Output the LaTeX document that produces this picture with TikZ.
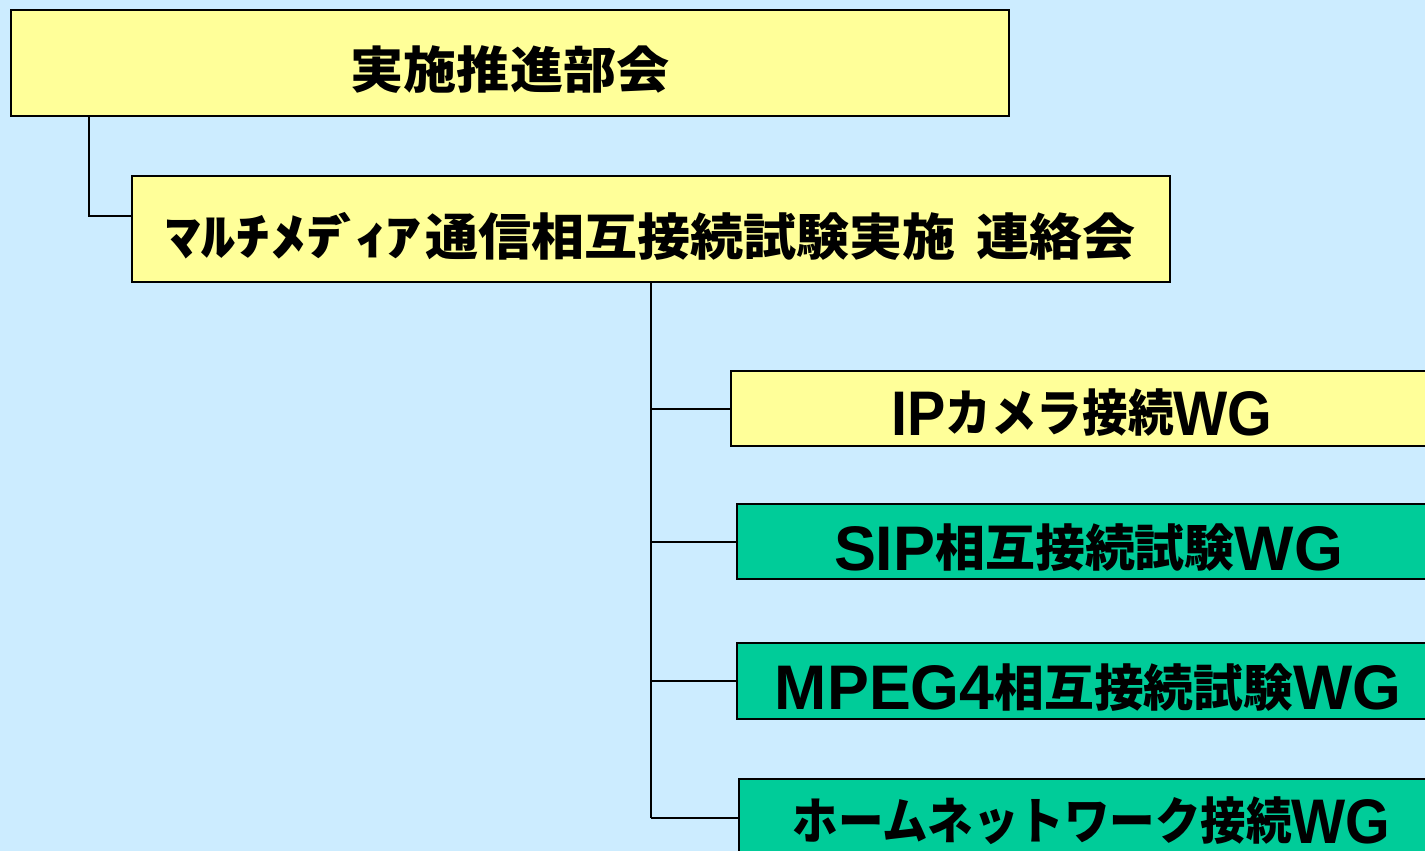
\documentclass[tikz,border=0pt]{standalone}
\usepackage{fontspec}
\usepackage{graphicx}
\newfontfamily\jp{Noto Sans CJK JP}
\newfontfamily\latfont{Liberation Sans}[Scale=1.26]
\newcommand{\lt}[1]{\raisebox{-3.5pt}{\latfont\bfseries #1}}
\definecolor{bgblue}{HTML}{CCECFF}
\definecolor{boxyellow}{HTML}{FFFF99}
\definecolor{boxgreen}{HTML}{00CC99}
\begin{document}
\begin{tikzpicture}[x=1pt,y=-1pt,
  orgbox/.style={draw=black, line width=2pt, rectangle, inner sep=0pt},
  ybox/.style={orgbox, fill=boxyellow},
  gbox/.style={orgbox, fill=boxgreen},
  lbl/.style={inner sep=0pt, text height=42pt, text depth=4pt, text=black, font=\jp\bfseries\fontsize{50}{54}\selectfont},
  link/.style={draw=black, line width=2pt}]
\fill[bgblue] (0,0) rectangle (1425,851);
\useasboundingbox (0,0) rectangle (1425,851);
\clip (0,0) rectangle (1425,851);
% boxes
\node[ybox, minimum width=998pt, minimum height=106pt] (top) at (510,63) {};
\node[ybox, minimum width=1038pt, minimum height=106pt] (liaison) at (651,229) {};
\node[ybox, minimum width=710pt, minimum height=75pt] (ip) at (1086,408.5) {};
\node[gbox, minimum width=704pt, minimum height=75pt] (sip) at (1089,541.5) {};
\node[gbox, minimum width=704pt, minimum height=76pt] (mpeg) at (1089,681) {};
\node[gbox, minimum width=702pt, minimum height=80pt] (home) at (1090,819) {};
% labels
\node[lbl] (top-t) at (510,69.5) {\resizebox{319pt}{\height}{実施推進部会}};
\node[lbl] (liaison-t) at (650.5,236) {\resizebox{256pt}{\height}{ﾏﾙﾁﾒﾃ\kern-9pt ﾞ\kern-7ptｨ\kern-3ptｱ}\hspace{4pt}\resizebox{711pt}{\height}{通信相互接続試験実施\hspace{20pt}連絡会}};
\node[lbl] (ip-t) at (1082,412.5) {\resizebox{381pt}{\height}{\lt{IP}カメラ接続\lt{WG}}};
\node[lbl] (sip-t) at (1088.5,547.5) {\resizebox{509pt}{\height}{\lt{SIP}相互接続試験\lt{WG}}};
\node[lbl] (mpeg-t) at (1088,687) {\resizebox{626pt}{\height}{\lt{MPEG4}相互接続試験\lt{WG}}};
\node[lbl] (home-t) at (1091.5,820.5) {\resizebox{598pt}{\height}{ホームネットワーク接続\lt{WG}}};
% connectors
\coordinate (trunk1) at (89,216);
\coordinate (trunk2) at (651,818);
\draw[link] (top.south -| trunk1) -- (trunk1) -- (trunk1 -| liaison.west);
\draw[link] (liaison.south -| trunk2) -- (trunk2);
\draw[link] (ip.west -| trunk2) -- (ip.west);
\draw[link] (sip.west -| trunk2) -- (sip.west);
\draw[link] (mpeg.west -| trunk2) -- (mpeg.west);
\draw[link] (trunk2) -- (trunk2 -| home.west);
\end{tikzpicture}
\end{document}
